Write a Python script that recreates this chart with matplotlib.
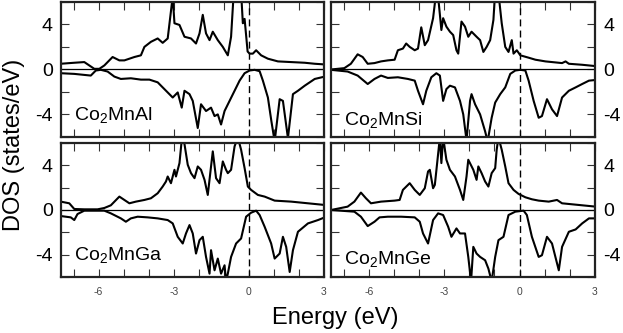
import matplotlib
matplotlib.use('Agg')
import matplotlib.pyplot as plt
from matplotlib.ticker import MultipleLocator, FixedLocator

plt.rcParams['font.family'] = ['Liberation Sans', 'DejaVu Sans']
plt.rcParams['mathtext.fontset'] = 'custom'
plt.rcParams['mathtext.rm'] = 'Liberation Sans'
plt.rcParams['mathtext.it'] = 'Liberation Sans'
plt.rcParams['axes.unicode_minus'] = False

# panel names
compounds = ['Co$_2$MnAl', 'Co$_2$MnSi', 'Co$_2$MnGa', 'Co$_2$MnGe']

# Co2MnAl
al_up_e = [-7.51, -6.97, -6.57, -6.37, -6.17, -5.97, -5.77, -5.44, -5.17, -4.97, -4.57, -4.31,
           -4.17, -3.91, -3.64, -3.44, -3.24, -3.04, -2.97, -2.77, -2.57, -2.31, -2.11, -1.97,
           -1.84, -1.71, -1.57, -1.44, -1.24, -1.04, -0.84, -0.71, -0.6, -0.45, -0.3, -0.24,
           -0.17, -0.05, 0.03, 0.16, 0.29, 0.49, 0.76, 1.16, 1.69, 2.23, 2.63, 3.03]
al_up_dos = [0.51, 0.60, 0.66, 0.36, 0.06, 0.06, 0.36, 1.11, 0.81, 0.81, 1.11, 1.26,
             2.01, 2.46, 2.76, 2.37, 2.76, 6.5, 4.11, 3.96, 2.91, 2.76, 2.31, 3.21,
             4.86, 3.21, 2.61, 3.36, 2.61, 2.01, 1.26, 2.91, 7.0, 7.5, 6.5, 4.11,
             4.5, 1.6, 1.41, 1.41, 1.71, 1.26, 0.96, 0.72, 0.66, 0.60, 0.51, 0.45]
al_dn_e = [-7.51, -6.97, -6.31, -6.11, -5.91, -5.64, -5.37, -5.11, -4.71, -4.31, -3.97, -3.64,
           -3.24, -3.04, -2.84, -2.68, -2.57, -2.37, -2.24, -2.04, -1.91, -1.71, -1.51, -1.37,
           -1.24, -1.11, -0.97, -0.77, -0.57, -0.37, -0.17, 0.03, 0.23, 0.43, 0.56, 0.76,
           0.9, 1.03, 1.23, 1.36, 1.56, 1.76, 1.96, 2.23, 2.63, 3.03]
al_dn_dos = [-0.33, -0.39, -0.54, -0.09, -0.03, -0.18, -0.63, -0.84, -0.78, -0.90, -0.90, -1.14,
             -2.04, -2.49, -2.04, -3.39, -1.89, -2.19, -2.79, -5.2, -3.09, -3.69, -3.39, -4.14,
             -3.99, -4.89, -3.69, -2.79, -1.89, -0.99, -0.33, -0.09, -0.03, -0.15, -0.99, -2.49,
             -4.6, -6.4, -2.64, -2.79, -6.1, -2.19, -1.89, -1.44, -0.84, -0.63]

# Co2MnSi
si_up_e = [-7.5, -6.97, -6.71, -6.44, -6.24, -6.04, -5.77, -5.51, -5.24, -4.97, -4.84, -4.64,
           -4.51, -4.37, -4.17, -4.04, -3.91, -3.77, -3.64, -3.44, -3.31, -3.24, -3.11, -3.04,
           -2.91, -2.77, -2.64, -2.51, -2.44, -2.31, -2.17, -2.04, -1.91, -1.71, -1.57, -1.44,
           -1.31, -1.17, -1.04, -0.97, -0.84, -0.71, -0.57, -0.44, -0.31, -0.24, -0.11, 0.03,
           0.36, 0.63, 1.03, 1.69, 1.83, 1.96, 2.49, 3.03]
si_up_dos = [0.0, 0.12, 0.51, 1.35, 1.11, 0.51, 0.57, 0.72, 0.81, 0.87, 1.71, 1.86,
             2.31, 2.01, 1.71, 1.86, 3.75, 2.16, 2.61, 4.56, 7.0, 6.5, 3.51, 4.56,
             3.81, 3.36, 3.06, 1.71, 1.41, 4.26, 3.81, 2.91, 3.36, 2.91, 2.61, 1.56,
             2.01, 2.61, 4.41, 7.0, 6.8, 4.11, 2.01, 1.56, 2.61, 1.41, 1.71, 1.26,
             1.05, 0.87, 0.72, 0.57, 0.72, 0.51, 0.42, 0.30]
si_dn_e = [-7.5, -6.84, -6.44, -6.04, -5.77, -5.51, -5.24, -4.84, -4.44, -4.17, -4.04, -3.84,
           -3.71, -3.51, -3.31, -3.17, -3.04, -2.91, -2.77, -2.57, -2.37, -2.24, -2.11, -1.97,
           -1.91, -1.77, -1.57, -1.37, -1.27, -1.11, -0.97, -0.77, -0.57, -0.37, -0.17, 0.03,
           0.23, 0.36, 0.56, 0.76, 0.89, 1.09, 1.29, 1.49, 1.69, 1.96, 2.23, 2.49, 2.76, 3.03]
si_dn_dos = [-0.03, -0.18, -0.54, -1.29, -0.84, -0.54, -0.75, -0.69, -0.84, -0.99, -1.89, -3.09,
             -1.89, -0.69, -0.33, -0.54, -2.79, -1.74, -1.44, -1.59, -2.79, -3.99, -6.3, -2.79,
             -2.19, -3.09, -3.99, -5.5, -6.4, -4.29, -2.94, -2.19, -1.59, -0.39, -0.09, -0.03,
             -0.09, -0.99, -2.79, -4.29, -4.14, -2.64, -3.54, -4.14, -2.49, -1.89, -1.59, -1.29, -0.99, -0.93]

# Co2MnGa
ga_up_e = [-7.51, -7.17, -6.97, -6.57, -6.04, -5.77, -5.51, -5.17, -4.97, -4.77, -4.51, -4.17,
           -3.91, -3.64, -3.44, -3.31, -3.24, -3.11, -2.97, -2.91, -2.77, -2.67, -2.57, -2.44,
           -2.31, -2.17, -2.04, -1.91, -1.77, -1.64, -1.51, -1.44, -1.31, -1.17, -1.04, -0.91,
           -0.84, -0.71, -0.57, -0.44, -0.31, -0.17, -0.04, 0.09, 0.36, 0.63, 1.03, 1.69, 2.36, 3.03]
ga_up_dos = [0.75, 0.6, 0.09, 0.06, 0.06, 0.18, 0.42, 1.2, 0.9, 0.6, 0.75, 0.9,
             1.05, 1.5, 2.1, 2.55, 3.0, 2.4, 3.6, 3.0, 4.2, 6.5, 5.9, 4.05,
             3.3, 2.85, 3.9, 3.6, 2.7, 1.35, 3.9, 5.25, 2.85, 2.4, 4.35, 3.6,
             3.3, 3.6, 5.7, 6.5, 5.4, 3.75, 2.1, 1.8, 1.35, 1.2, 0.84, 0.75, 0.6, 0.45]
ga_dn_e = [-7.51, -7.11, -6.97, -6.84, -6.57, -5.77, -5.51, -5.11, -4.91, -4.71, -4.44, -4.04,
           -3.64, -3.24, -3.04, -2.84, -2.64, -2.51, -2.37, -2.24, -2.11, -1.97, -1.84, -1.71,
           -1.57, -1.51, -1.37, -1.24, -1.11, -0.97, -0.91, -0.84, -0.71, -0.51, -0.31, -0.11,
           0.09, 0.29, 0.43, 0.63, 0.89, 1.03, 1.23, 1.36, 1.49, 1.63, 1.76, 1.96, 2.36, 2.76, 3.03]
ga_dn_dos = [-0.54, -0.66, -0.9, -0.36, -0.06, -0.06, -0.3, -0.75, -1.05, -0.75, -0.6, -0.66,
             -0.75, -0.9, -1.2, -2.4, -3.0, -2.1, -1.35, -2.1, -3.9, -2.7, -2.4, -4.2,
             -5.7, -3.6, -5.4, -4.35, -5.7, -4.95, -6.4, -5.7, -4.2, -3.0, -2.55, -0.6,
             -0.24, -0.06, -0.45, -1.5, -3.0, -4.35, -3.9, -2.4, -3.3, -5.55, -3.6, -1.95, -1.2, -0.9, -0.66]

# Co2MnGe
ge_up_e = [-7.5, -6.84, -6.57, -6.31, -6.11, -5.91, -5.51, -4.97, -4.77, -4.64, -4.37, -4.17,
           -3.97, -3.77, -3.64, -3.57, -3.44, -3.37, -3.17, -3.11, -3.04, -2.91, -2.77, -2.57,
           -2.37, -2.24, -2.11, -2.04, -1.84, -1.71, -1.64, -1.51, -1.37, -1.24, -1.11, -0.97,
           -0.91, -0.84, -0.71, -0.57, -0.44, -0.24, -0.04, 0.23, 0.49, 0.76, 1.16, 1.49, 1.69, 2.36, 3.03]
ge_up_dos = [0.0, 0.3, 0.75, 1.56, 1.05, 0.6, 0.75, 0.84, 0.9, 1.8, 2.4, 1.8,
             1.35, 1.95, 3.45, 3.6, 1.95, 2.25, 6.5, 4.2, 6.5, 4.5, 3.6, 3.0,
             1.8, 0.9, 3.0, 4.5, 3.6, 2.7, 3.9, 3.3, 2.55, 2.1, 3.3, 3.75,
             5.4, 6.5, 5.4, 3.9, 2.4, 1.8, 1.44, 1.14, 0.96, 0.84, 0.75, 0.9, 0.6, 0.45, 0.3]
ge_dn_e = [-7.5, -6.57, -6.31, -6.04, -5.77, -5.57, -5.24, -4.71, -4.17, -3.97, -3.84, -3.64,
           -3.44, -3.24, -3.04, -2.84, -2.71, -2.51, -2.37, -2.17, -2.04, -1.93, -1.84, -1.71,
           -1.57, -1.37, -1.24, -1.11, -0.97, -0.84, -0.64, -0.44, -0.17, 0.16, 0.29, 0.49,
           0.76, 0.89, 1.09, 1.29, 1.56, 1.69, 1.96, 2.23, 2.49, 2.76, 3.03]
ge_dn_dos = [0.0, -0.15, -0.6, -1.44, -1.05, -0.66, -0.6, -0.6, -0.66, -1.05, -2.1, -3.0,
             -0.9, -0.3, -0.45, -1.5, -2.4, -1.65, -2.1, -2.1, -4.2, -6.4, -3.3, -3.9,
             -4.2, -4.5, -5.25, -6.4, -4.2, -2.7, -2.4, -0.45, -0.15, -0.06, -0.45, -2.4,
             -4.2, -4.05, -2.4, -3.0, -5.4, -3.3, -1.95, -1.74, -1.2, -0.75, -0.75]

curves = [
    (al_up_e, al_up_dos, al_dn_e, al_dn_dos),
    (si_up_e, si_up_dos, si_dn_e, si_dn_dos),
    (ga_up_e, ga_up_dos, ga_dn_e, ga_dn_dos),
    (ge_up_e, ge_up_dos, ge_dn_e, ge_dn_dos),
]

W, H = 623, 333
fig = plt.figure(figsize=(W / 100, H / 100), dpi=100)

# panel boxes in pixels (left, top, right, bottom)
boxes = [(61, 2, 324, 137), (331, 2, 595, 137),
         (61, 143, 324, 277), (331, 143, 595, 277)]
label_y = [-4.5, -4.95, -4.5, -4.85]

for i, (l, t, r, b) in enumerate(boxes):
    ax = fig.add_axes([l / W, 1 - b / H, (r - l) / W, (b - t) / H])
    up_e, up_d, dn_e, dn_d = curves[i]
    ax.plot(up_e, up_d, color='black', lw=1.5)
    ax.plot(dn_e, dn_d, color='black', lw=1.5)
    ax.axhline(0, color='black', lw=0.9)
    ax.axvline(0, color='black', lw=1.0, ls=(0, (5, 3)))
    ax.set_xlim(-7.5, 3)
    ax.set_ylim(-6, 6)

    ax.xaxis.set_major_locator(FixedLocator([-6, -3, 0, 3]))
    ax.xaxis.set_minor_locator(MultipleLocator(1))
    ax.yaxis.set_major_locator(FixedLocator([-4, 0, 4]))
    ax.yaxis.set_minor_locator(MultipleLocator(2))
    ax.tick_params(which='both', direction='in', top=True, bottom=True, left=True, right=True,
                   length=6, width=0.8, color='#333333')
    ax.tick_params(axis='y', labelsize=14, pad=6)
    ax.tick_params(axis='x', labelsize=7.5, labelcolor='#444444', pad=7)
    if i < 2:
        ax.set_xticklabels([])
    if i % 2 == 1:
        ax.yaxis.tick_right()
        ax.tick_params(axis='y', which='both', left=True, right=True)
    for s in ax.spines.values():
        s.set_linewidth(1.6)
        s.set_color('#222222')

    ax.text(-7.0, label_y[i], compounds[i], fontsize=14, ha='left', va='baseline')

fig.text(0.022, 1 - 145 / H, 'DOS (states/eV)', rotation=90, ha='center', va='center', fontsize=17)
fig.text(335 / W, 1 - 318 / H, 'Energy (eV)', ha='center', va='center', fontsize=17)

fig.savefig('out.png', dpi=100)
